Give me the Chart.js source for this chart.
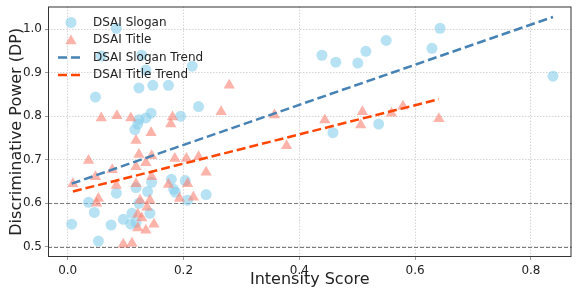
<!DOCTYPE html>
<html>
<head>
<meta charset="utf-8">
<script src="https://cdn.jsdelivr.net/npm/chart.js@4/dist/chart.umd.min.js"></script>
<style>
  html, body { margin: 0; padding: 0; background: #fff; }
  #wrap { width: 578px; height: 289px; position: relative; }
</style>
</head>
<body>
<div id="wrap"><canvas id="dpChart" width="578" height="289"></canvas></div>
<script>
// values
const sloganX = [0.007, 0.036, 0.046, 0.053, 0.048, 0.058, 0.075, 0.084, 0.084, 0.096, 0.111, 0.109, 0.118, 0.118, 0.123,
  0.116, 0.121, 0.123, 0.135, 0.128, 0.135, 0.123, 0.144, 0.147, 0.138, 0.145, 0.142, 0.174, 0.179, 0.183,
  0.186, 0.195, 0.203, 0.207, 0.215, 0.226, 0.239, 0.439, 0.463, 0.458, 0.501, 0.515, 0.537, 0.550, 0.629,
  0.643, 0.838];
const sloganY = [0.552, 0.602, 0.579, 0.513, 0.844, 0.938, 0.550, 0.623, 1.002, 0.563, 0.577, 0.552, 0.556, 0.636, 0.600,
  0.769, 0.782, 0.792, 0.796, 0.940, 0.906, 0.865, 0.807, 0.871, 0.627, 0.648, 0.577, 0.871, 0.655, 0.632,
  0.625, 0.800, 0.652, 0.607, 0.915, 0.822, 0.620, 0.940, 0.924, 0.762, 0.922, 0.949, 0.782, 0.974, 0.956,
  1.002, 0.892];

const titleX = [0.009, 0.036, 0.048, 0.053, 0.050, 0.058, 0.077, 0.085, 0.084, 0.096, 0.111, 0.109, 0.118, 0.123, 0.118,
  0.118, 0.121, 0.121, 0.125, 0.128, 0.135, 0.137, 0.142, 0.144, 0.145, 0.145, 0.149, 0.135, 0.174, 0.178,
  0.181, 0.185, 0.193, 0.205, 0.207, 0.217, 0.226, 0.239, 0.265, 0.279, 0.357, 0.378, 0.444, 0.506, 0.509,
  0.559, 0.579, 0.641];
const titleY = [0.645, 0.698, 0.661, 0.611, 0.600, 0.796, 0.677, 0.801, 0.641, 0.506, 0.508, 0.796, 0.744, 0.712, 0.684,
  0.645, 0.575, 0.543, 0.607, 0.566, 0.538, 0.591, 0.607, 0.762, 0.709, 0.661, 0.552, 0.693, 0.643, 0.782,
  0.798, 0.703, 0.611, 0.703, 0.645, 0.614, 0.707, 0.671, 0.810, 0.871, 0.803, 0.732, 0.791, 0.780, 0.810,
  0.807, 0.823, 0.794];

// fitted trend endpoints as drawn in the reference
const sloganTrendX = [0.007, 0.838];
const sloganTrendY = [0.645, 1.028];
const titleTrendX = [0.009, 0.641];
const titleTrendY = [0.627, 0.839];

const xTicks = [0.0, 0.2, 0.4, 0.6, 0.8];
const yTicks = [0.5, 0.6, 0.7, 0.8, 0.9, 1.0];
const refLevels = [0.5, 0.6];

const zip = (xs, ys) => xs.map((x, i) => ({ x, y: ys[i] }));

const FONT = 'DejaVu Sans';
const SLOGAN_FILL = 'rgba(135,206,235,0.6)';
const TITLE_FILL = 'rgba(250,128,114,0.6)';
const SLOGAN_LINE = '#4682B4';
const TITLE_LINE = '#FF4500';

const legendItems = [
  { label: 'DSAI Slogan', kind: 'circle', color: SLOGAN_FILL },
  { label: 'DSAI Title', kind: 'triangle', color: TITLE_FILL },
  { label: 'DSAI Slogan Trend', kind: 'line', color: SLOGAN_LINE },
  { label: 'DSAI Title Trend', kind: 'line', color: TITLE_LINE },
];

// dashed reference lines, frame and in-plot legend
const decorPlugin = {
  id: 'decor',
  beforeDatasetsDraw(chart) {
    const { ctx, chartArea: a, scales: { y } } = chart;
    ctx.save();
    ctx.strokeStyle = '#7a7a7a';
    ctx.lineWidth = 1;
    ctx.setLineDash([4, 2]);
    refLevels.forEach(v => {
      const py = Math.round(y.getPixelForValue(v)) + 0.5;
      ctx.beginPath(); ctx.moveTo(a.left, py); ctx.lineTo(a.right, py); ctx.stroke();
    });
    ctx.restore();
  },
  afterDatasetsDraw(chart) {
    const { ctx, chartArea: a } = chart;
    ctx.save();
    ctx.strokeStyle = '#333';
    ctx.lineWidth = 1;
    ctx.strokeRect(a.left + 0.5, a.top + 0.5, a.right - a.left - 1, a.bottom - a.top - 1);

    let ly = a.top + 16;
    ctx.font = `12px "${FONT}"`;
    ctx.textBaseline = 'middle';
    legendItems.forEach(it => {
      const mx = a.left + 23;
      if (it.kind === 'circle') {
        ctx.fillStyle = it.color;
        ctx.beginPath(); ctx.arc(mx, ly, 5.5, 0, Math.PI * 2); ctx.fill();
      } else if (it.kind === 'triangle') {
        ctx.fillStyle = it.color;
        const r = 6.5;
        ctx.beginPath();
        for (let k = 0; k < 3; k++) {
          const ang = k * 2 * Math.PI / 3;
          const px = mx + Math.sin(ang) * r, py = ly + 1 - Math.cos(ang) * r;
          k ? ctx.lineTo(px, py) : ctx.moveTo(px, py);
        }
        ctx.closePath(); ctx.fill();
      } else {
        ctx.strokeStyle = it.color;
        ctx.lineWidth = 2.5;
        ctx.setLineDash([9, 4]);
        ctx.beginPath(); ctx.moveTo(mx - 13, ly); ctx.lineTo(mx + 12, ly); ctx.stroke();
        ctx.setLineDash([]);
      }
      ctx.fillStyle = '#222';
      ctx.fillText(it.label, a.left + 45, ly);
      ly += 17.5;
    });
    ctx.restore();
  },
};

const noEdgePad = s => { s.paddingTop = 0; s.paddingBottom = 0; s.paddingLeft = 0; s.paddingRight = 0; };

new Chart(document.getElementById('dpChart'), {
  type: 'scatter',
  data: {
    datasets: [
      { label: 'DSAI Slogan', data: zip(sloganX, sloganY), pointStyle: 'circle', pointRadius: 5.5,
        backgroundColor: SLOGAN_FILL, borderWidth: 0, order: 3 },
      { label: 'DSAI Title', data: zip(titleX, titleY), pointStyle: 'triangle', pointRadius: 6.5,
        backgroundColor: TITLE_FILL, borderWidth: 0, order: 2 },
      { type: 'line', label: 'DSAI Slogan Trend', data: zip(sloganTrendX, sloganTrendY), borderColor: SLOGAN_LINE,
        borderWidth: 2.5, borderDash: [9, 4], pointRadius: 0, fill: false, order: 1 },
      { type: 'line', label: 'DSAI Title Trend', data: zip(titleTrendX, titleTrendY), borderColor: TITLE_LINE,
        borderWidth: 2.5, borderDash: [9, 4], pointRadius: 0, fill: false, order: 0 },
    ],
  },
  options: {
    responsive: false,
    animation: false,
    devicePixelRatio: 1,
    layout: { padding: { top: 5, right: 1, left: 0, bottom: 0 } },
    plugins: { legend: { display: false }, tooltip: { enabled: false } },
    scales: {
      x: {
        type: 'linear', min: -0.034, max: 0.870,
        afterBuildTicks: s => { s.ticks = xTicks.map(v => ({ value: v })); },
        afterFit: s => { s.height = 32; noEdgePad(s); },
        grid: { color: '#d4d4d4', lineWidth: 1, drawTicks: true, tickLength: 3, tickColor: '#999' },
        border: { display: false, dash: [1.5, 1.5] },
        ticks: { padding: 4, color: '#222', font: { family: FONT, size: 12 }, callback: v => v.toFixed(1) },
        title: { display: true, text: 'Intensity Score', color: '#222', font: { family: FONT, size: 16 }, padding: { top: 0, bottom: 0 } },
      },
      y: {
        type: 'linear', min: 0.4765, max: 1.052,
        afterBuildTicks: s => { s.ticks = yTicks.map(v => ({ value: v })); },
        afterFit: s => { s.width = 48; noEdgePad(s); },
        grid: { color: '#d4d4d4', lineWidth: 1, drawTicks: true, tickLength: 3, tickColor: '#999' },
        border: { display: false, dash: [1.5, 1.5] },
        ticks: { padding: 3, color: '#222', font: { family: FONT, size: 12 }, callback: v => v.toFixed(1) },
        title: { display: true, text: 'Discriminative Power (DP)', color: '#222', font: { family: FONT, size: 16 }, padding: { top: 7, bottom: 0 } },
      },
    },
  },
  plugins: [decorPlugin],
});
</script>
</body>
</html>
